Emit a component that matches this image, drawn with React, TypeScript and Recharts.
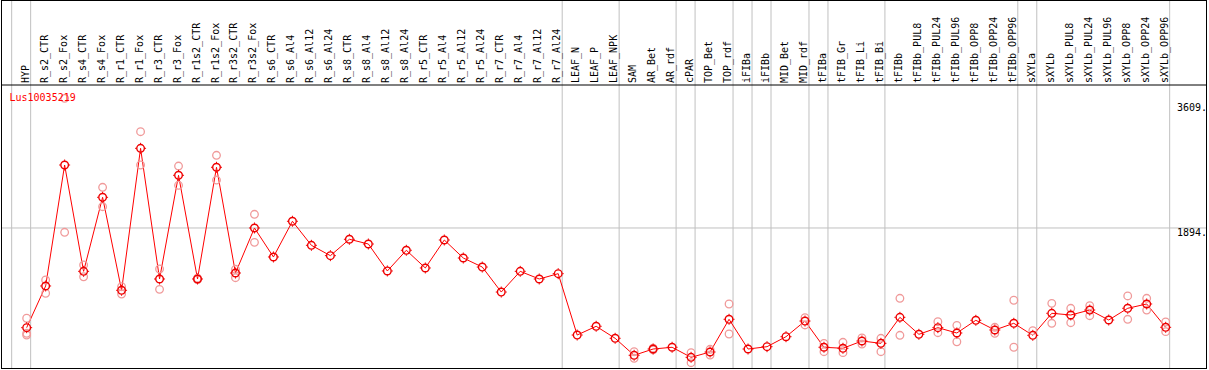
import { ComposedChart, Line, XAxis, YAxis, ReferenceLine } from "recharts";

const categories = [
  "HYP", "R_s2_CTR", "R_s2_Fox", "R_s4_CTR", "R_s4_Fox", "R_r1_CTR", "R_r1_Fox",
  "R_r3_CTR", "R_r3_Fox", "R_r1s2_CTR", "R_r1s2_Fox", "R_r3s2_CTR", "R_r3s2_Fox",
  "R_s6_CTR", "R_s6_Al4", "R_s6_Al12", "R_s6_Al24", "R_s8_CTR", "R_s8_Al4",
  "R_s8_Al12", "R_s8_Al24", "R_r5_CTR", "R_r5_Al4", "R_r5_Al12", "R_r5_Al24",
  "R_r7_CTR", "R_r7_Al4", "R_r7_Al12", "R_r7_Al24", "LEAF_N", "LEAF_P", "LEAF_NPK",
  "SAM", "AR_Bet", "AR_rdf", "cPAR", "TOP_Bet", "TOP_rdf", "iFIBa", "iFIBb",
  "MID_Bet", "MID_rdf", "tFIBa", "tFIB_Gr", "tFIB_Li", "tFIB_Bi", "tFIBb",
  "tFIBb_PUL8", "tFIBb_PUL24", "tFIBb_PUL96", "tFIBb_OPP8", "tFIBb_OPP24", "tFIBb_OPP96",
  "sXYLa", "sXYLb", "sXYLb_PUL8", "sXYLb_PUL24", "sXYLb_PUL96", "sXYLb_OPP8",
  "sXYLb_OPP24", "sXYLb_OPP96",
];

// mean expression per sample
const meanValues = [
  526, 1098, 2758, 1299, 2315, 1039, 2987, 1194, 2617, 1194, 2727, 1276, 1894,
  1496, 1986, 1656, 1514, 1739, 1674, 1304, 1588, 1345, 1729, 1482, 1358,
  1015, 1299, 1194, 1267, 425, 545, 380,
  147, 233, 257, 119, 192, 641, 233, 265, 402, 617, 257, 243, 343, 311, 668,
  435, 526, 453, 627, 494, 586,
  421, 723, 700, 768, 631, 792, 851, 531,
];

// individual replicates (null where none shows)
const repHigh = [
  655, 1180, 3673, 1386, 2452, 1088, 3215, 1331, 2744, 1205, 2891, 1327, 2082,
  null, null, null, null, null, null, null, null, null, null, null, null,
  null, null, null, null, null, null, null,
  196, 245, null, 183, 229, 851, null, null, null, 663, 311, 325, 384, 380, 929,
  null, 608, 558, null, 531, 902,
  484, 860, 792, 827, null, 961, 929, 604,
];

const repLow = [
  449, 998, 1835, 1225, 2186, 988, 2758, 1052, 2480, 1185, 2552, 1212, 1697,
  null, null, null, null, null, null, null, null, null, null, null, null,
  null, null, null, null, null, null, null,
  106, 222, null, 45, 151, 439, null, null, null, 563, 196, 183, 302, 196, 421,
  null, 457, 333, null, 449, 257,
  null, 586, 594, 690, null, 641, 768, 471,
];

const repExtra: (number | null)[] = categories.map((_, i) => (i === 0 ? 425 : null));

// group boundaries drawn as grey rules (after these sample indices)
const separators = [-1, 0, 28, 31, 34, 35, 37, 38, 39, 41, 42, 45, 52, 53, 60];
const yTicks = [0, 1894, 3609];
const title = "Lus10035219";

const data = categories.map((name, idx) => ({
  idx,
  name,
  mean: meanValues[idx],
  repHigh: repHigh[idx],
  repLow: repLow[idx],
  repExtra: repExtra[idx],
}));

const FONT = "DejaVu Sans Mono, monospace";

const XTick = (props: any) => {
  const { x, payload } = props;
  return (
    <text
      transform={`translate(${x + 2},83) rotate(-90)`}
      textAnchor="start"
      fontFamily={FONT}
      fontSize={10}
      fill="#000"
    >
      {categories[payload.value]}
    </text>
  );
};

const YTick = (props: any) => {
  const { y, payload } = props;
  const v = payload.value;
  return (
    <text x={1177} y={v === 0 ? y - 1 : y + 8} fontFamily={FONT} fontSize={10} fill="#000">
      {v === 0 ? "0" : `${v}.`}
    </text>
  );
};

const SepLine = (p: any) => (
  <line
    x1={p.x1}
    x2={p.x2}
    y1={0}
    y2={Math.max(p.y1, p.y2)}
    stroke="#c0c0c0"
    strokeWidth={1}
  />
);

const MeanDot = (p: any) => {
  const { cx, cy, value } = p;
  if (cx == null || cy == null || value == null) return <g key={p.key} />;
  return (
    <g key={p.key}>
      <circle cx={cx} cy={cy} r={3.8} fill="none" stroke="#ee0000" strokeWidth={1.4} />
      <path
        d={`M${cx},${cy - 5.5}v1.4M${cx},${cy + 4.1}v1.4M${cx - 5.5},${cy}h1.4M${cx + 4.1},${cy}h1.4`}
        stroke="#ee0000"
        strokeWidth={1}
      />
    </g>
  );
};

const RepDot = (p: any) => {
  const { cx, cy, value } = p;
  if (cx == null || cy == null || value == null) return <g key={p.key} />;
  return <circle key={p.key} cx={cx} cy={cy} r={3.8} fill="none" stroke="#f09a9a" strokeWidth={1.3} />;
};

export default function App() {
  return (
    <div style={{ position: "absolute", left: 0, top: 0, width: 1209, height: 370, background: "#fff" }}>
      <ComposedChart
        width={1209}
        height={370}
        data={data}
        margin={{ top: 1, right: 2, bottom: 1, left: 1 }}
      >
        <XAxis
          type="number"
          dataKey="idx"
          orientation="top"
          height={84}
          domain={[-1.352, 62.177]}
          allowDataOverflow
          ticks={categories.map((_, i) => i)}
          interval={0}
          tick={XTick}
          tickLine={false}
          axisLine={{ stroke: "#000" }}
        />
        <YAxis
          type="number"
          orientation="right"
          mirror
          domain={[-41.2, 3856]}
          allowDataOverflow
          ticks={yTicks}
          tick={YTick}
          tickLine={false}
          axisLine={false}
        />
        {separators.map((s) => (
          <ReferenceLine key={s} x={s + 0.21} shape={SepLine} />
        ))}
        <ReferenceLine y={1894} stroke="#c0c0c0" strokeWidth={1} />
        <Line dataKey="repHigh" stroke="none" dot={RepDot} activeDot={false} isAnimationActive={false} />
        <Line dataKey="repLow" stroke="none" dot={RepDot} activeDot={false} isAnimationActive={false} />
        <Line dataKey="repExtra" stroke="none" dot={RepDot} activeDot={false} isAnimationActive={false} />
        <Line
          type="linear"
          dataKey="mean"
          stroke="#ff0000"
          strokeWidth={1}
          dot={MeanDot}
          activeDot={false}
          isAnimationActive={false}
        />
      </ComposedChart>
      <svg
        width={1209}
        height={370}
        style={{ position: "absolute", left: 0, top: 0, pointerEvents: "none" }}
      >
        <rect x={1.5} y={0.5} width={1205} height={368} fill="none" stroke="#000" strokeWidth={1} />
        <text x={9.5} y={101} fontFamily={FONT} fontSize={10} fill="#ff0000">
          {title}
        </text>
      </svg>
    </div>
  );
}
